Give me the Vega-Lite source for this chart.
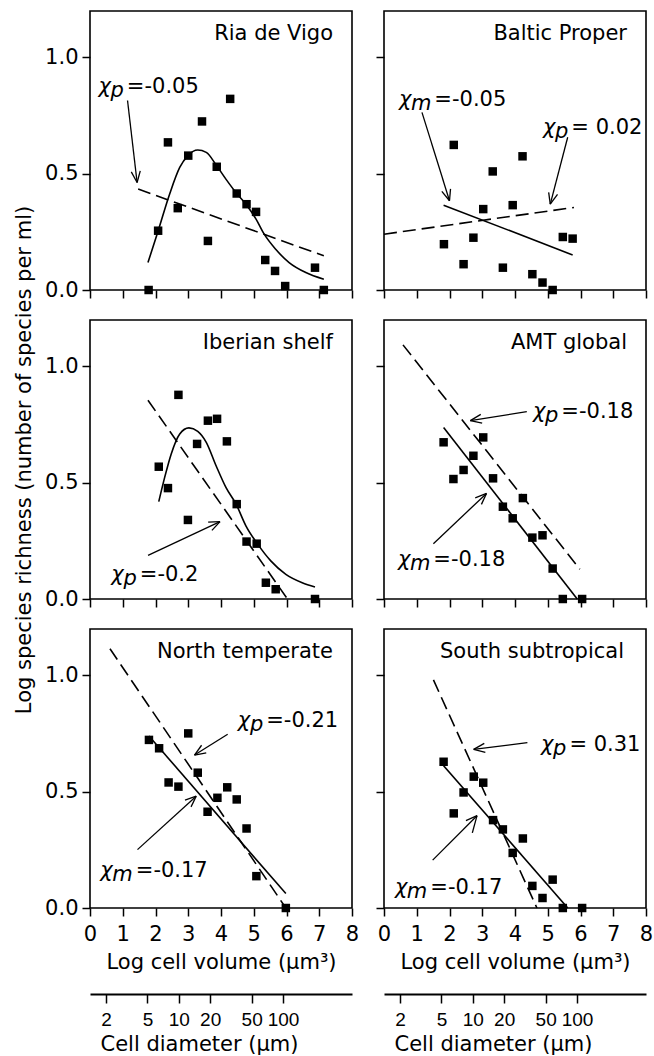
{
  "$schema": "https://vega.github.io/schema/vega-lite/v6.json",
  "padding": {"left": 12, "top": 10, "right": 4, "bottom": 2},
  "background": "white",
  "config": {
    "font": "DejaVu Sans",
    "view": {"stroke": "black", "strokeWidth": 1.6},
    "axis": {
      "grid": false, "domain": false, "ticks": true, "tickColor": "black", "tickWidth": 1.5, "tickSize": 8,
      "labelFont": "DejaVu Sans", "labelFontSize": 21, "labelColor": "black", "labelPadding": 4, "labelFlush": false, "labelOverlap": false,
      "titleFont": "DejaVu Sans", "titleFontSize": 21, "titleFontWeight": "normal", "titleColor": "black"
    },
    "axisX": {"labelPadding": 7},
    "text": {"font": "DejaVu Sans", "color": "black"}
  },
  "datasets": {
    "titles": [
      {"panel": "Ria de Vigo"}, {"panel": "Baltic Proper"}, {"panel": "Iberian shelf"},
      {"panel": "AMT global"}, {"panel": "North temperate"}, {"panel": "South subtropical"}
    ],
    "diam": [{"d": 2}, {"d": 5}, {"d": 10}, {"d": 20}, {"d": 50}, {"d": 100}],
    "main": [
    {"panel": "Ria de Vigo", "kind": "pt", "x": 1.79, "y": 0},
    {"panel": "Ria de Vigo", "kind": "pt", "x": 2.08, "y": 0.255},
    {"panel": "Ria de Vigo", "kind": "pt", "x": 2.38, "y": 0.635},
    {"panel": "Ria de Vigo", "kind": "pt", "x": 2.68, "y": 0.352},
    {"panel": "Ria de Vigo", "kind": "pt", "x": 3.0, "y": 0.578},
    {"panel": "Ria de Vigo", "kind": "pt", "x": 3.42, "y": 0.725},
    {"panel": "Ria de Vigo", "kind": "pt", "x": 3.6, "y": 0.211},
    {"panel": "Ria de Vigo", "kind": "pt", "x": 3.87, "y": 0.53},
    {"panel": "Ria de Vigo", "kind": "pt", "x": 4.28, "y": 0.822},
    {"panel": "Ria de Vigo", "kind": "pt", "x": 4.48, "y": 0.415},
    {"panel": "Ria de Vigo", "kind": "pt", "x": 4.78, "y": 0.369},
    {"panel": "Ria de Vigo", "kind": "pt", "x": 5.07, "y": 0.336},
    {"panel": "Ria de Vigo", "kind": "pt", "x": 5.35, "y": 0.129},
    {"panel": "Ria de Vigo", "kind": "pt", "x": 5.65, "y": 0.082},
    {"panel": "Ria de Vigo", "kind": "pt", "x": 5.96, "y": 0.017},
    {"panel": "Ria de Vigo", "kind": "pt", "x": 6.87, "y": 0.096},
    {"panel": "Ria de Vigo", "kind": "pt", "x": 7.14, "y": 0},
    {"panel": "Ria de Vigo", "kind": "solid", "x": 1.77, "y": 0.118},
    {"panel": "Ria de Vigo", "kind": "solid", "x": 2.08, "y": 0.254},
    {"panel": "Ria de Vigo", "kind": "solid", "x": 2.43, "y": 0.412},
    {"panel": "Ria de Vigo", "kind": "solid", "x": 2.74, "y": 0.527},
    {"panel": "Ria de Vigo", "kind": "solid", "x": 2.99, "y": 0.578},
    {"panel": "Ria de Vigo", "kind": "solid", "x": 3.29, "y": 0.602},
    {"panel": "Ria de Vigo", "kind": "solid", "x": 3.55, "y": 0.592},
    {"panel": "Ria de Vigo", "kind": "solid", "x": 3.87, "y": 0.534},
    {"panel": "Ria de Vigo", "kind": "solid", "x": 4.15, "y": 0.477},
    {"panel": "Ria de Vigo", "kind": "solid", "x": 4.48, "y": 0.415},
    {"panel": "Ria de Vigo", "kind": "solid", "x": 4.78, "y": 0.366},
    {"panel": "Ria de Vigo", "kind": "solid", "x": 5.07, "y": 0.305},
    {"panel": "Ria de Vigo", "kind": "solid", "x": 5.32, "y": 0.24},
    {"panel": "Ria de Vigo", "kind": "solid", "x": 5.67, "y": 0.175},
    {"panel": "Ria de Vigo", "kind": "solid", "x": 6.08, "y": 0.118},
    {"panel": "Ria de Vigo", "kind": "solid", "x": 6.59, "y": 0.075},
    {"panel": "Ria de Vigo", "kind": "solid", "x": 7.14, "y": 0.046},
    {"panel": "Ria de Vigo", "kind": "dashed", "x": 1.47, "y": 0.434},
    {"panel": "Ria de Vigo", "kind": "dashed", "x": 7.14, "y": 0.147},
    {"panel": "Ria de Vigo", "kind": "arrow", "x": 1.146, "y": 0.815, "x2": 1.438, "y2": 0.4625},
    {"panel": "Ria de Vigo", "kind": "arrow", "x": 1.438, "y": 0.4625, "x2": 1.535, "y2": 0.5125},
    {"panel": "Ria de Vigo", "kind": "arrow", "x": 1.438, "y": 0.4625, "x2": 1.261, "y2": 0.5078},
    {"panel": "Ria de Vigo", "kind": "label", "x": 1.064, "y": 0.849, "sub": "p", "val": "=-0.05"},

    {"panel": "Baltic Proper", "kind": "pt", "x": 1.83, "y": 0.197},
    {"panel": "Baltic Proper", "kind": "pt", "x": 2.13, "y": 0.624},
    {"panel": "Baltic Proper", "kind": "pt", "x": 2.43, "y": 0.111},
    {"panel": "Baltic Proper", "kind": "pt", "x": 2.73, "y": 0.225},
    {"panel": "Baltic Proper", "kind": "pt", "x": 3.03, "y": 0.348},
    {"panel": "Baltic Proper", "kind": "pt", "x": 3.32, "y": 0.51},
    {"panel": "Baltic Proper", "kind": "pt", "x": 3.63, "y": 0.096},
    {"panel": "Baltic Proper", "kind": "pt", "x": 3.93, "y": 0.365},
    {"panel": "Baltic Proper", "kind": "pt", "x": 4.23, "y": 0.575},
    {"panel": "Baltic Proper", "kind": "pt", "x": 4.53, "y": 0.068},
    {"panel": "Baltic Proper", "kind": "pt", "x": 4.84, "y": 0.032},
    {"panel": "Baltic Proper", "kind": "pt", "x": 5.15, "y": 0},
    {"panel": "Baltic Proper", "kind": "pt", "x": 5.46, "y": 0.228},
    {"panel": "Baltic Proper", "kind": "pt", "x": 5.76, "y": 0.221},
    {"panel": "Baltic Proper", "kind": "solid", "x": 1.82, "y": 0.365},
    {"panel": "Baltic Proper", "kind": "solid", "x": 5.76, "y": 0.151},
    {"panel": "Baltic Proper", "kind": "dashed", "x": 0, "y": 0.24},
    {"panel": "Baltic Proper", "kind": "dashed", "x": 5.8, "y": 0.355},
    {"panel": "Baltic Proper", "kind": "arrow", "x": 1.16, "y": 0.764, "x2": 2.0, "y2": 0.384},
    {"panel": "Baltic Proper", "kind": "arrow", "x": 2.0, "y": 0.384, "x2": 2.031, "y2": 0.435},
    {"panel": "Baltic Proper", "kind": "arrow", "x": 2.0, "y": 0.384, "x2": 1.766, "y2": 0.424},
    {"panel": "Baltic Proper", "kind": "arrow", "x": 5.609, "y": 0.657, "x2": 5.077, "y2": 0.369},
    {"panel": "Baltic Proper", "kind": "arrow", "x": 5.077, "y": 0.369, "x2": 5.298, "y2": 0.411},
    {"panel": "Baltic Proper", "kind": "arrow", "x": 5.077, "y": 0.369, "x2": 5.028, "y2": 0.42},
    {"panel": "Baltic Proper", "kind": "label", "x": 1.477, "y": 0.793, "sub": "m", "val": "=-0.05"},
    {"panel": "Baltic Proper", "kind": "label", "x": 5.66, "y": 0.672, "sub": "p", "val": "= 0.02"},

    {"panel": "Iberian shelf", "kind": "pt", "x": 2.1, "y": 0.569},
    {"panel": "Iberian shelf", "kind": "pt", "x": 2.38, "y": 0.477},
    {"panel": "Iberian shelf", "kind": "pt", "x": 2.7, "y": 0.878},
    {"panel": "Iberian shelf", "kind": "pt", "x": 2.99, "y": 0.34},
    {"panel": "Iberian shelf", "kind": "pt", "x": 3.27, "y": 0.667},
    {"panel": "Iberian shelf", "kind": "pt", "x": 3.6, "y": 0.767},
    {"panel": "Iberian shelf", "kind": "pt", "x": 3.88, "y": 0.775},
    {"panel": "Iberian shelf", "kind": "pt", "x": 4.18, "y": 0.678},
    {"panel": "Iberian shelf", "kind": "pt", "x": 4.48, "y": 0.408},
    {"panel": "Iberian shelf", "kind": "pt", "x": 4.78, "y": 0.247},
    {"panel": "Iberian shelf", "kind": "pt", "x": 5.09, "y": 0.238},
    {"panel": "Iberian shelf", "kind": "pt", "x": 5.37, "y": 0.07},
    {"panel": "Iberian shelf", "kind": "pt", "x": 5.67, "y": 0.042},
    {"panel": "Iberian shelf", "kind": "pt", "x": 6.87, "y": 0},
    {"panel": "Iberian shelf", "kind": "solid", "x": 2.1, "y": 0.419},
    {"panel": "Iberian shelf", "kind": "solid", "x": 2.28, "y": 0.523},
    {"panel": "Iberian shelf", "kind": "solid", "x": 2.48, "y": 0.624},
    {"panel": "Iberian shelf", "kind": "solid", "x": 2.74, "y": 0.71},
    {"panel": "Iberian shelf", "kind": "solid", "x": 3.02, "y": 0.736},
    {"panel": "Iberian shelf", "kind": "solid", "x": 3.29, "y": 0.721},
    {"panel": "Iberian shelf", "kind": "solid", "x": 3.55, "y": 0.674},
    {"panel": "Iberian shelf", "kind": "solid", "x": 3.85, "y": 0.573},
    {"panel": "Iberian shelf", "kind": "solid", "x": 4.15, "y": 0.48},
    {"panel": "Iberian shelf", "kind": "solid", "x": 4.46, "y": 0.408},
    {"panel": "Iberian shelf", "kind": "solid", "x": 4.76, "y": 0.315},
    {"panel": "Iberian shelf", "kind": "solid", "x": 5.12, "y": 0.236},
    {"panel": "Iberian shelf", "kind": "solid", "x": 5.52, "y": 0.164},
    {"panel": "Iberian shelf", "kind": "solid", "x": 5.98, "y": 0.106},
    {"panel": "Iberian shelf", "kind": "solid", "x": 6.48, "y": 0.07},
    {"panel": "Iberian shelf", "kind": "solid", "x": 6.87, "y": 0.052},
    {"panel": "Iberian shelf", "kind": "dashed", "x": 1.77, "y": 0.855},
    {"panel": "Iberian shelf", "kind": "dashed", "x": 6.03, "y": 0},
    {"panel": "Iberian shelf", "kind": "arrow", "x": 1.772, "y": 0.188, "x2": 3.97, "y2": 0.333},
    {"panel": "Iberian shelf", "kind": "arrow", "x": 3.97, "y": 0.333, "x2": 3.608, "y2": 0.331},
    {"panel": "Iberian shelf", "kind": "arrow", "x": 3.97, "y": 0.333, "x2": 3.723, "y2": 0.295},
    {"panel": "Iberian shelf", "kind": "label", "x": 1.459, "y": 0.078, "sub": "p", "val": "=-0.2"},

    {"panel": "AMT global", "kind": "pt", "x": 1.82, "y": 0.674},
    {"panel": "AMT global", "kind": "pt", "x": 2.12, "y": 0.516},
    {"panel": "AMT global", "kind": "pt", "x": 2.43, "y": 0.555},
    {"panel": "AMT global", "kind": "pt", "x": 2.73, "y": 0.616},
    {"panel": "AMT global", "kind": "pt", "x": 3.03, "y": 0.695},
    {"panel": "AMT global", "kind": "pt", "x": 3.33, "y": 0.519},
    {"panel": "AMT global", "kind": "pt", "x": 3.63, "y": 0.397},
    {"panel": "AMT global", "kind": "pt", "x": 3.93, "y": 0.347},
    {"panel": "AMT global", "kind": "pt", "x": 4.24, "y": 0.434},
    {"panel": "AMT global", "kind": "pt", "x": 4.53, "y": 0.264},
    {"panel": "AMT global", "kind": "pt", "x": 4.84, "y": 0.274},
    {"panel": "AMT global", "kind": "pt", "x": 5.15, "y": 0.131},
    {"panel": "AMT global", "kind": "pt", "x": 5.46, "y": 0},
    {"panel": "AMT global", "kind": "pt", "x": 6.05, "y": 0},
    {"panel": "AMT global", "kind": "solid", "x": 1.82, "y": 0.738},
    {"panel": "AMT global", "kind": "solid", "x": 5.9, "y": 0},
    {"panel": "AMT global", "kind": "dashed", "x": 0.58, "y": 1.093},
    {"panel": "AMT global", "kind": "dashed", "x": 5.98, "y": 0.128},
    {"panel": "AMT global", "kind": "arrow", "x": 4.36, "y": 0.806, "x2": 2.637, "y2": 0.767},
    {"panel": "AMT global", "kind": "arrow", "x": 2.637, "y": 0.767, "x2": 2.997, "y2": 0.756},
    {"panel": "AMT global", "kind": "arrow", "x": 2.637, "y": 0.767, "x2": 2.954, "y2": 0.794},
    {"panel": "AMT global", "kind": "arrow", "x": 1.508, "y": 0.238, "x2": 3.129, "y2": 0.454},
    {"panel": "AMT global", "kind": "arrow", "x": 3.129, "y": 0.454, "x2": 2.785, "y2": 0.435},
    {"panel": "AMT global", "kind": "arrow", "x": 3.129, "y": 0.454, "x2": 2.975, "y2": 0.407},
    {"panel": "AMT global", "kind": "label", "x": 5.354, "y": 0.779, "sub": "p", "val": "=-0.18"},
    {"panel": "AMT global", "kind": "label", "x": 1.446, "y": 0.142, "sub": "m", "val": "=-0.18"},

    {"panel": "North temperate", "kind": "pt", "x": 1.8, "y": 0.723},
    {"panel": "North temperate", "kind": "pt", "x": 2.11, "y": 0.687},
    {"panel": "North temperate", "kind": "pt", "x": 2.4, "y": 0.54},
    {"panel": "North temperate", "kind": "pt", "x": 2.7, "y": 0.522},
    {"panel": "North temperate", "kind": "pt", "x": 3.0, "y": 0.751},
    {"panel": "North temperate", "kind": "pt", "x": 3.29, "y": 0.582},
    {"panel": "North temperate", "kind": "pt", "x": 3.59, "y": 0.414},
    {"panel": "North temperate", "kind": "pt", "x": 3.89, "y": 0.474},
    {"panel": "North temperate", "kind": "pt", "x": 4.19, "y": 0.519},
    {"panel": "North temperate", "kind": "pt", "x": 4.48, "y": 0.467},
    {"panel": "North temperate", "kind": "pt", "x": 4.78, "y": 0.342},
    {"panel": "North temperate", "kind": "pt", "x": 5.08, "y": 0.137},
    {"panel": "North temperate", "kind": "pt", "x": 5.98, "y": 0},
    {"panel": "North temperate", "kind": "solid", "x": 1.8, "y": 0.74},
    {"panel": "North temperate", "kind": "solid", "x": 5.98, "y": 0.062},
    {"panel": "North temperate", "kind": "dashed", "x": 0.61, "y": 1.115},
    {"panel": "North temperate", "kind": "dashed", "x": 5.98, "y": 0},
    {"panel": "North temperate", "kind": "arrow", "x": 4.204, "y": 0.747, "x2": 3.191, "y2": 0.658},
    {"panel": "North temperate", "kind": "arrow", "x": 3.191, "y": 0.658, "x2": 3.55, "y2": 0.667},
    {"panel": "North temperate", "kind": "arrow", "x": 3.191, "y": 0.658, "x2": 3.407, "y2": 0.7},
    {"panel": "North temperate", "kind": "arrow", "x": 1.45, "y": 0.251, "x2": 3.243, "y2": 0.481},
    {"panel": "North temperate", "kind": "arrow", "x": 3.243, "y": 0.481, "x2": 2.9, "y2": 0.464},
    {"panel": "North temperate", "kind": "arrow", "x": 3.243, "y": 0.481, "x2": 3.085, "y2": 0.435},
    {"panel": "North temperate", "kind": "label", "x": 5.32, "y": 0.78, "sub": "p", "val": "=-0.21"},
    {"panel": "North temperate", "kind": "label", "x": 1.337, "y": 0.134, "sub": "m", "val": "=-0.17"},

    {"panel": "South subtropical", "kind": "pt", "x": 1.82, "y": 0.629},
    {"panel": "South subtropical", "kind": "pt", "x": 2.13, "y": 0.407},
    {"panel": "South subtropical", "kind": "pt", "x": 2.43, "y": 0.497},
    {"panel": "South subtropical", "kind": "pt", "x": 2.74, "y": 0.565},
    {"panel": "South subtropical", "kind": "pt", "x": 3.03, "y": 0.539},
    {"panel": "South subtropical", "kind": "pt", "x": 3.33, "y": 0.378},
    {"panel": "South subtropical", "kind": "pt", "x": 3.63, "y": 0.338},
    {"panel": "South subtropical", "kind": "pt", "x": 3.93, "y": 0.237},
    {"panel": "South subtropical", "kind": "pt", "x": 4.24, "y": 0.299},
    {"panel": "South subtropical", "kind": "pt", "x": 4.53, "y": 0.095},
    {"panel": "South subtropical", "kind": "pt", "x": 4.84, "y": 0.043},
    {"panel": "South subtropical", "kind": "pt", "x": 5.15, "y": 0.122},
    {"panel": "South subtropical", "kind": "pt", "x": 5.46, "y": 0},
    {"panel": "South subtropical", "kind": "pt", "x": 6.05, "y": 0},
    {"panel": "South subtropical", "kind": "solid", "x": 1.82, "y": 0.612},
    {"panel": "South subtropical", "kind": "solid", "x": 5.61, "y": 0},
    {"panel": "South subtropical", "kind": "dashed", "x": 1.51, "y": 0.981},
    {"panel": "South subtropical", "kind": "dashed", "x": 4.67, "y": 0},
    {"panel": "South subtropical", "kind": "arrow", "x": 4.378, "y": 0.711, "x2": 2.738, "y2": 0.682},
    {"panel": "South subtropical", "kind": "arrow", "x": 2.738, "y": 0.682, "x2": 3.095, "y2": 0.669},
    {"panel": "South subtropical", "kind": "arrow", "x": 2.738, "y": 0.682, "x2": 3.062, "y2": 0.708},
    {"panel": "South subtropical", "kind": "arrow", "x": 1.486, "y": 0.206, "x2": 2.84, "y2": 0.397},
    {"panel": "South subtropical", "kind": "arrow", "x": 2.84, "y": 0.397, "x2": 2.502, "y2": 0.376},
    {"panel": "South subtropical", "kind": "arrow", "x": 2.84, "y": 0.397, "x2": 2.697, "y2": 0.323},
    {"panel": "South subtropical", "kind": "label", "x": 5.6, "y": 0.675, "sub": "p", "val": "= 0.31"},
    {"panel": "South subtropical", "kind": "label", "x": 1.354, "y": 0.062, "sub": "m", "val": "=-0.17"}
    ]
  },
  "data": {"name": "main"},
  "columns": 2,
  "spacing": {"row": 30, "column": 32},
  "bounds": "flush",
  "concat": [
    {
      "width": 262, "height": 279,
      "layer": [
        {
          "transform": [{"filter": "datum.panel === 'Ria de Vigo'"}],
          "encoding": {
            "x": {"field": "x", "type": "quantitative", "scale": {"domain": [0, 8], "nice": false, "zero": false}, "axis": {"values": [0,1,2,3,4,5,6,7,8], "labels": false, "title": null}},
            "y": {"field": "y", "type": "quantitative", "scale": {"domain": [0, 1.2], "nice": false}, "axis": {"values": [0, 0.5, 1], "format": ".1f", "title": null}}
          },
          "layer": [
            {"transform": [{"filter": "datum.kind === 'dashed'"}], "mark": {"type": "line", "color": "black", "strokeWidth": 1.6, "strokeDash": [13, 6]}},
            {"transform": [{"filter": "datum.kind === 'solid'"}], "mark": {"type": "line", "color": "black", "strokeWidth": 1.6, "interpolate": "monotone"}},
            {"transform": [{"filter": "datum.kind === 'pt'"}], "mark": {"type": "square", "size": 72, "color": "black", "opacity": 1}},
            {"transform": [{"filter": "datum.kind === 'arrow'"}], "mark": {"type": "rule", "color": "black", "strokeWidth": 1.3}, "encoding": {"x2": {"field": "x2"}, "y2": {"field": "y2"}}},
            {"transform": [{"filter": "datum.kind === 'label' && datum.sub === 'p'"}], "mark": {"type": "text", "text": "χ", "fontStyle": "italic", "fontSize": 21, "align": "right", "baseline": "alphabetic", "dx": -14}},
            {"transform": [{"filter": "datum.kind === 'label' && datum.sub === 'm'"}], "mark": {"type": "text", "text": "χ", "fontStyle": "italic", "fontSize": 21, "align": "right", "baseline": "alphabetic", "dx": -21}},
            {"transform": [{"filter": "datum.kind === 'label'"}], "mark": {"type": "text", "fontStyle": "italic", "fontSize": 21, "align": "right", "baseline": "alphabetic", "dx": -1, "dy": 4}, "encoding": {"text": {"field": "sub"}}},
            {"transform": [{"filter": "datum.kind === 'label'"}], "mark": {"type": "text", "fontSize": 21, "align": "left", "baseline": "alphabetic", "dx": 2}, "encoding": {"text": {"field": "val"}}}
          ]
        },
        {"data": {"name": "titles"}, "transform": [{"filter": "datum.panel === 'Ria de Vigo'"}], "mark": {"type": "text", "fontSize": 21, "align": "right", "baseline": "alphabetic", "dx": -19, "dy": 29},
         "encoding": {
           "x": {"datum": 8, "axis": {"values": [0,1,2,3,4,5,6,7,8], "labels": false, "title": null}},
           "y": {"datum": 1.2, "axis": {"values": [0, 0.5, 1], "format": ".1f", "title": null}},
           "text": {"field": "panel"}}}
      ]
    },
    {
      "width": 262, "height": 279,
      "layer": [
        {
          "transform": [{"filter": "datum.panel === 'Baltic Proper'"}],
          "encoding": {
            "x": {"field": "x", "type": "quantitative", "scale": {"domain": [0, 8], "nice": false, "zero": false}, "axis": {"values": [0,1,2,3,4,5,6,7,8], "labels": false, "title": null}},
            "y": {"field": "y", "type": "quantitative", "scale": {"domain": [0, 1.2], "nice": false}, "axis": {"values": [0, 0.5, 1], "labels": false, "title": null}}
          },
          "layer": [
            {"transform": [{"filter": "datum.kind === 'dashed'"}], "mark": {"type": "line", "color": "black", "strokeWidth": 1.6, "strokeDash": [13, 6]}},
            {"transform": [{"filter": "datum.kind === 'solid'"}], "mark": {"type": "line", "color": "black", "strokeWidth": 1.6, "interpolate": "monotone"}},
            {"transform": [{"filter": "datum.kind === 'pt'"}], "mark": {"type": "square", "size": 72, "color": "black", "opacity": 1}},
            {"transform": [{"filter": "datum.kind === 'arrow'"}], "mark": {"type": "rule", "color": "black", "strokeWidth": 1.3}, "encoding": {"x2": {"field": "x2"}, "y2": {"field": "y2"}}},
            {"transform": [{"filter": "datum.kind === 'label' && datum.sub === 'p'"}], "mark": {"type": "text", "text": "χ", "fontStyle": "italic", "fontSize": 21, "align": "right", "baseline": "alphabetic", "dx": -14}},
            {"transform": [{"filter": "datum.kind === 'label' && datum.sub === 'm'"}], "mark": {"type": "text", "text": "χ", "fontStyle": "italic", "fontSize": 21, "align": "right", "baseline": "alphabetic", "dx": -21}},
            {"transform": [{"filter": "datum.kind === 'label'"}], "mark": {"type": "text", "fontStyle": "italic", "fontSize": 21, "align": "right", "baseline": "alphabetic", "dx": -1, "dy": 4}, "encoding": {"text": {"field": "sub"}}},
            {"transform": [{"filter": "datum.kind === 'label'"}], "mark": {"type": "text", "fontSize": 21, "align": "left", "baseline": "alphabetic", "dx": 2}, "encoding": {"text": {"field": "val"}}}
          ]
        },
        {"data": {"name": "titles"}, "transform": [{"filter": "datum.panel === 'Baltic Proper'"}], "mark": {"type": "text", "fontSize": 21, "align": "right", "baseline": "alphabetic", "dx": -19, "dy": 29},
         "encoding": {
           "x": {"datum": 8, "axis": {"values": [0,1,2,3,4,5,6,7,8], "labels": false, "title": null}},
           "y": {"datum": 1.2, "axis": {"values": [0, 0.5, 1], "labels": false, "title": null}},
           "text": {"field": "panel"}}}
      ]
    },
    {
      "width": 262, "height": 279,
      "layer": [
        {
          "transform": [{"filter": "datum.panel === 'Iberian shelf'"}],
          "encoding": {
            "x": {"field": "x", "type": "quantitative", "scale": {"domain": [0, 8], "nice": false, "zero": false}, "axis": {"values": [0,1,2,3,4,5,6,7,8], "labels": false, "title": null}},
            "y": {"field": "y", "type": "quantitative", "scale": {"domain": [0, 1.2], "nice": false}, "axis": {"values": [0, 0.5, 1], "format": ".1f", "title": "Log species richness (number of species per ml)", "titlePadding": 10}}
          },
          "layer": [
            {"transform": [{"filter": "datum.kind === 'dashed'"}], "mark": {"type": "line", "color": "black", "strokeWidth": 1.6, "strokeDash": [13, 6]}},
            {"transform": [{"filter": "datum.kind === 'solid'"}], "mark": {"type": "line", "color": "black", "strokeWidth": 1.6, "interpolate": "monotone"}},
            {"transform": [{"filter": "datum.kind === 'pt'"}], "mark": {"type": "square", "size": 72, "color": "black", "opacity": 1}},
            {"transform": [{"filter": "datum.kind === 'arrow'"}], "mark": {"type": "rule", "color": "black", "strokeWidth": 1.3}, "encoding": {"x2": {"field": "x2"}, "y2": {"field": "y2"}}},
            {"transform": [{"filter": "datum.kind === 'label' && datum.sub === 'p'"}], "mark": {"type": "text", "text": "χ", "fontStyle": "italic", "fontSize": 21, "align": "right", "baseline": "alphabetic", "dx": -14}},
            {"transform": [{"filter": "datum.kind === 'label' && datum.sub === 'm'"}], "mark": {"type": "text", "text": "χ", "fontStyle": "italic", "fontSize": 21, "align": "right", "baseline": "alphabetic", "dx": -21}},
            {"transform": [{"filter": "datum.kind === 'label'"}], "mark": {"type": "text", "fontStyle": "italic", "fontSize": 21, "align": "right", "baseline": "alphabetic", "dx": -1, "dy": 4}, "encoding": {"text": {"field": "sub"}}},
            {"transform": [{"filter": "datum.kind === 'label'"}], "mark": {"type": "text", "fontSize": 21, "align": "left", "baseline": "alphabetic", "dx": 2}, "encoding": {"text": {"field": "val"}}}
          ]
        },
        {"data": {"name": "titles"}, "transform": [{"filter": "datum.panel === 'Iberian shelf'"}], "mark": {"type": "text", "fontSize": 21, "align": "right", "baseline": "alphabetic", "dx": -19, "dy": 29},
         "encoding": {
           "x": {"datum": 8, "axis": {"values": [0,1,2,3,4,5,6,7,8], "labels": false, "title": null}},
           "y": {"datum": 1.2, "axis": {"values": [0, 0.5, 1], "format": ".1f", "title": "Log species richness (number of species per ml)", "titlePadding": 10}},
           "text": {"field": "panel"}}}
      ]
    },
    {
      "width": 262, "height": 279,
      "layer": [
        {
          "transform": [{"filter": "datum.panel === 'AMT global'"}],
          "encoding": {
            "x": {"field": "x", "type": "quantitative", "scale": {"domain": [0, 8], "nice": false, "zero": false}, "axis": {"values": [0,1,2,3,4,5,6,7,8], "labels": false, "title": null}},
            "y": {"field": "y", "type": "quantitative", "scale": {"domain": [0, 1.2], "nice": false}, "axis": {"values": [0, 0.5, 1], "labels": false, "title": null}}
          },
          "layer": [
            {"transform": [{"filter": "datum.kind === 'dashed'"}], "mark": {"type": "line", "color": "black", "strokeWidth": 1.6, "strokeDash": [13, 6]}},
            {"transform": [{"filter": "datum.kind === 'solid'"}], "mark": {"type": "line", "color": "black", "strokeWidth": 1.6, "interpolate": "monotone"}},
            {"transform": [{"filter": "datum.kind === 'pt'"}], "mark": {"type": "square", "size": 72, "color": "black", "opacity": 1}},
            {"transform": [{"filter": "datum.kind === 'arrow'"}], "mark": {"type": "rule", "color": "black", "strokeWidth": 1.3}, "encoding": {"x2": {"field": "x2"}, "y2": {"field": "y2"}}},
            {"transform": [{"filter": "datum.kind === 'label' && datum.sub === 'p'"}], "mark": {"type": "text", "text": "χ", "fontStyle": "italic", "fontSize": 21, "align": "right", "baseline": "alphabetic", "dx": -14}},
            {"transform": [{"filter": "datum.kind === 'label' && datum.sub === 'm'"}], "mark": {"type": "text", "text": "χ", "fontStyle": "italic", "fontSize": 21, "align": "right", "baseline": "alphabetic", "dx": -21}},
            {"transform": [{"filter": "datum.kind === 'label'"}], "mark": {"type": "text", "fontStyle": "italic", "fontSize": 21, "align": "right", "baseline": "alphabetic", "dx": -1, "dy": 4}, "encoding": {"text": {"field": "sub"}}},
            {"transform": [{"filter": "datum.kind === 'label'"}], "mark": {"type": "text", "fontSize": 21, "align": "left", "baseline": "alphabetic", "dx": 2}, "encoding": {"text": {"field": "val"}}}
          ]
        },
        {"data": {"name": "titles"}, "transform": [{"filter": "datum.panel === 'AMT global'"}], "mark": {"type": "text", "fontSize": 21, "align": "right", "baseline": "alphabetic", "dx": -19, "dy": 29},
         "encoding": {
           "x": {"datum": 8, "axis": {"values": [0,1,2,3,4,5,6,7,8], "labels": false, "title": null}},
           "y": {"datum": 1.2, "axis": {"values": [0, 0.5, 1], "labels": false, "title": null}},
           "text": {"field": "panel"}}}
      ]
    },
    {
      "width": 262, "height": 279,
      "layer": [
        {
          "transform": [{"filter": "datum.panel === 'North temperate'"}],
          "encoding": {
            "x": {"field": "x", "type": "quantitative", "scale": {"domain": [0, 8], "nice": false, "zero": false}, "axis": {"values": [0,1,2,3,4,5,6,7,8], "title": "Log cell volume (µm³)", "titlePadding": 7}},
            "y": {"field": "y", "type": "quantitative", "scale": {"domain": [0, 1.2], "nice": false}, "axis": {"values": [0, 0.5, 1], "format": ".1f", "title": null}}
          },
          "layer": [
            {"transform": [{"filter": "datum.kind === 'dashed'"}], "mark": {"type": "line", "color": "black", "strokeWidth": 1.6, "strokeDash": [13, 6]}},
            {"transform": [{"filter": "datum.kind === 'solid'"}], "mark": {"type": "line", "color": "black", "strokeWidth": 1.6, "interpolate": "monotone"}},
            {"transform": [{"filter": "datum.kind === 'pt'"}], "mark": {"type": "square", "size": 72, "color": "black", "opacity": 1}},
            {"transform": [{"filter": "datum.kind === 'arrow'"}], "mark": {"type": "rule", "color": "black", "strokeWidth": 1.3}, "encoding": {"x2": {"field": "x2"}, "y2": {"field": "y2"}}},
            {"transform": [{"filter": "datum.kind === 'label' && datum.sub === 'p'"}], "mark": {"type": "text", "text": "χ", "fontStyle": "italic", "fontSize": 21, "align": "right", "baseline": "alphabetic", "dx": -14}},
            {"transform": [{"filter": "datum.kind === 'label' && datum.sub === 'm'"}], "mark": {"type": "text", "text": "χ", "fontStyle": "italic", "fontSize": 21, "align": "right", "baseline": "alphabetic", "dx": -21}},
            {"transform": [{"filter": "datum.kind === 'label'"}], "mark": {"type": "text", "fontStyle": "italic", "fontSize": 21, "align": "right", "baseline": "alphabetic", "dx": -1, "dy": 4}, "encoding": {"text": {"field": "sub"}}},
            {"transform": [{"filter": "datum.kind === 'label'"}], "mark": {"type": "text", "fontSize": 21, "align": "left", "baseline": "alphabetic", "dx": 2}, "encoding": {"text": {"field": "val"}}}
          ]
        },
        {"data": {"name": "titles"}, "transform": [{"filter": "datum.panel === 'North temperate'"}], "mark": {"type": "text", "fontSize": 21, "align": "right", "baseline": "alphabetic", "dx": -19, "dy": 29},
         "encoding": {
           "x": {"datum": 8, "axis": {"values": [0,1,2,3,4,5,6,7,8], "title": "Log cell volume (µm³)", "titlePadding": 7}},
           "y": {"datum": 1.2, "axis": {"values": [0, 0.5, 1], "format": ".1f", "title": null}},
           "text": {"field": "panel"}}}
      ]
    },
    {
      "width": 262, "height": 279,
      "layer": [
        {
          "transform": [{"filter": "datum.panel === 'South subtropical'"}],
          "encoding": {
            "x": {"field": "x", "type": "quantitative", "scale": {"domain": [0, 8], "nice": false, "zero": false}, "axis": {"values": [0,1,2,3,4,5,6,7,8], "title": "Log cell volume (µm³)", "titlePadding": 7}},
            "y": {"field": "y", "type": "quantitative", "scale": {"domain": [0, 1.2], "nice": false}, "axis": {"values": [0, 0.5, 1], "labels": false, "title": null}}
          },
          "layer": [
            {"transform": [{"filter": "datum.kind === 'dashed'"}], "mark": {"type": "line", "color": "black", "strokeWidth": 1.6, "strokeDash": [13, 6]}},
            {"transform": [{"filter": "datum.kind === 'solid'"}], "mark": {"type": "line", "color": "black", "strokeWidth": 1.6, "interpolate": "monotone"}},
            {"transform": [{"filter": "datum.kind === 'pt'"}], "mark": {"type": "square", "size": 72, "color": "black", "opacity": 1}},
            {"transform": [{"filter": "datum.kind === 'arrow'"}], "mark": {"type": "rule", "color": "black", "strokeWidth": 1.3}, "encoding": {"x2": {"field": "x2"}, "y2": {"field": "y2"}}},
            {"transform": [{"filter": "datum.kind === 'label' && datum.sub === 'p'"}], "mark": {"type": "text", "text": "χ", "fontStyle": "italic", "fontSize": 21, "align": "right", "baseline": "alphabetic", "dx": -14}},
            {"transform": [{"filter": "datum.kind === 'label' && datum.sub === 'm'"}], "mark": {"type": "text", "text": "χ", "fontStyle": "italic", "fontSize": 21, "align": "right", "baseline": "alphabetic", "dx": -21}},
            {"transform": [{"filter": "datum.kind === 'label'"}], "mark": {"type": "text", "fontStyle": "italic", "fontSize": 21, "align": "right", "baseline": "alphabetic", "dx": -1, "dy": 4}, "encoding": {"text": {"field": "sub"}}},
            {"transform": [{"filter": "datum.kind === 'label'"}], "mark": {"type": "text", "fontSize": 21, "align": "left", "baseline": "alphabetic", "dx": 2}, "encoding": {"text": {"field": "val"}}}
          ]
        },
        {"data": {"name": "titles"}, "transform": [{"filter": "datum.panel === 'South subtropical'"}], "mark": {"type": "text", "fontSize": 21, "align": "right", "baseline": "alphabetic", "dx": -22, "dy": 29},
         "encoding": {
           "x": {"datum": 8, "axis": {"values": [0,1,2,3,4,5,6,7,8], "title": "Log cell volume (µm³)", "titlePadding": 7}},
           "y": {"datum": 1.2, "axis": {"values": [0, 0.5, 1], "labels": false, "title": null}},
           "text": {"field": "panel"}}}
      ]
    },
    {
      "width": 262, "height": 56,
      "view": {"stroke": null},
      "data": {"name": "diam"},
      "mark": {"type": "point", "opacity": 0},
      "encoding": {
        "x": {"field": "d", "type": "quantitative", "scale": {"type": "log", "domain": [1.406, 459], "nice": false}, "axis": {"values": [2,5,10,20,50,100], "format": "d", "domain": true, "domainColor": "black", "domainWidth": 2, "tickSize": 9, "labelPadding": 7, "labelFont": "Liberation Sans", "labelFontSize": 19, "title": "Cell diameter (µm)", "titlePadding": 4, "titleX": 109}}
      }
    },
    {
      "width": 262, "height": 56,
      "view": {"stroke": null},
      "data": {"name": "diam"},
      "mark": {"type": "point", "opacity": 0},
      "encoding": {
        "x": {"field": "d", "type": "quantitative", "scale": {"type": "log", "domain": [1.406, 459], "nice": false}, "axis": {"values": [2,5,10,20,50,100], "format": "d", "domain": true, "domainColor": "black", "domainWidth": 2, "tickSize": 9, "labelPadding": 7, "labelFont": "Liberation Sans", "labelFontSize": 19, "title": "Cell diameter (µm)", "titlePadding": 4, "titleX": 109}}
      }
    }
  ]
}
